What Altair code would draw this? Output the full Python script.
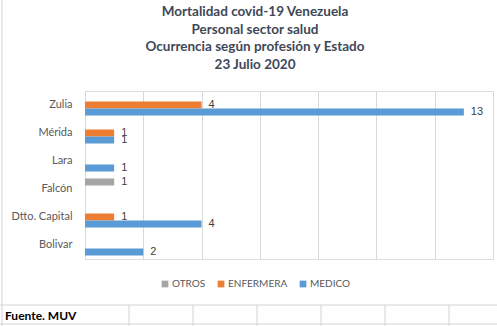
import altair as alt
import pandas as pd

# ---- data ----
estados = ["Zulia", "Mérida", "Lara", "Falcón", "Dtto. Capital", "Bolivar"]
series = ["OTROS", "ENFERMERA", "MEDICO"]
medico = [13, 1, 1, 0, 4, 2]
enfermera = [4, 1, 0, 0, 1, 0]
otros = [0, 0, 0, 1, 0, 0]
colores = ["#A5A5A5", "#ED7D31", "#5B9BD5"]
titulo = ["Mortalidad covid-19 Venezuela", "Personal sector salud",
          "Ocurrencia según profesión y Estado", "23 Julio 2020"]
fuente = "Fuente. MUV"

rows = []
for i, e in enumerate(estados):
    for s, vals in zip(series, [otros, enfermera, medico]):
        if vals[i] > 0:
            rows.append({"estado": e, "serie": s, "valor": vals[i]})
df = pd.DataFrame(rows)

W, H = 408, 168
PL, PT, PR, PB = 85, 91, 4, 67

x_enc = alt.X("valor:Q", scale=alt.Scale(domain=[0, 14], nice=False),
              axis=alt.Axis(values=list(range(0, 15, 2)), labels=False, ticks=False,
                            domain=False, grid=True, gridColor="#D9D9D9", title=None))
y_enc = alt.Y("estado:N", sort=estados,
              scale=alt.Scale(domain=estados, paddingInner=0.25, paddingOuter=0.125),
              axis=alt.Axis(title=None, ticks=False, domain=False, labelPadding=13,
                            labelFontSize=11, labelColor="#595959", labelFont="Lato"))
yoff = alt.YOffset("serie:N", sort=series, scale=alt.Scale(domain=series, paddingInner=0))

base = alt.Chart(df)
bars = base.mark_bar().encode(
    x=x_enc, y=y_enc, yOffset=yoff,
    color=alt.Color("serie:N", scale=alt.Scale(domain=series, range=colores),
                    legend=alt.Legend(title=None, orient="none", legendX=75, legendY=188,
                                      direction="horizontal", symbolType="square",
                                      symbolSize=45, symbolStrokeWidth=0,
                                      labelFontSize=10, labelColor="#595959",
                                      labelFont="Lato", columnPadding=10, labelOffset=2)),
)
labels = base.mark_text(align="left", baseline="middle", dx=7, fontSize=11,
                        color="#404040", font="Liberation Sans").encode(
    x="valor:Q", y=alt.Y("estado:N", sort=estados), yOffset=yoff, text="valor:Q")

one = pd.DataFrame({"d": [0]})
deco = []
line_col = "#D4D4D4"
# spreadsheet lines
deco.append(alt.Chart(one).mark_rule(color=line_col).encode(
    x=alt.value(-PL), x2=alt.value(W + PR), y=alt.value(214)))
deco.append(alt.Chart(one).mark_rule(color=line_col).encode(
    x=alt.value(-PL), x2=alt.value(W + PR), y=alt.value(233)))
for xv in [44, 108, 172, 236, 300, 364]:
    deco.append(alt.Chart(one).mark_rule(color=line_col).encode(
        x=alt.value(xv), y=alt.value(214), y2=alt.value(235)))
deco.append(alt.Chart(one).mark_rule(color=line_col).encode(
    x=alt.value(-83), y=alt.value(-PT), y2=alt.value(H + PB)))
deco.append(alt.Chart(one).mark_text(align="left", baseline="middle", fontSize=12,
                                      fontWeight="bold", color="#000000", font="Lato").encode(
    x=alt.value(-80), y=alt.value(225), text=alt.value(fuente)))
# title block
deco.append(alt.Chart(one).mark_text(align="center", baseline="top", fontSize=13.5,
                                      fontWeight="bold", color="#404858", font="Lato",
                                      lineHeight=17.5).encode(
    x=alt.value(170), y=alt.value(-86), text=alt.value(titulo)))

chart = alt.layer(bars, labels, *deco).properties(
    width=W, height=H,
    autosize=alt.AutoSizeParams(type="none"),
    padding={"left": PL, "top": PT, "right": PR, "bottom": PB},
).configure_view(stroke=None).configure(background="white")

chart.save("out.html", embed_options={"renderer": "svg", "actions": False})
